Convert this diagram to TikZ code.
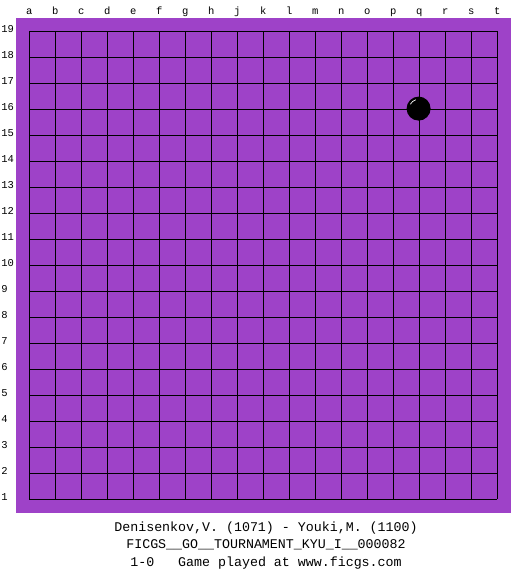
\documentclass[tikz,border=0pt]{standalone}
\usepackage{fontspec}
\setmonofont{Liberation Mono}
\definecolor{boardpurple}{RGB}{158,66,200}
\begin{document}
\begin{tikzpicture}[x=1pt,y=-1pt,
  gridline/.style={black,line width=1pt},
  collabel/.style={font=\ttfamily\fontsize{10.5}{10.5}\selectfont,anchor=base,inner sep=0pt},
  rowlabel/.style={font=\ttfamily\fontsize{10.5}{10.5}\selectfont,anchor=base west,inner sep=0pt},
  caption/.style={font=\ttfamily\fontsize{13.3}{13.3}\selectfont,anchor=base,inner sep=0pt}]
\useasboundingbox (0,0) rectangle (525,575);
\fill[white] (0,0) rectangle (525,575);
\fill[boardpurple] (16,18) rectangle (511,512.5);
\foreach \i in {0,...,18} {
  \draw[gridline] (29.3+26*\i,31.3) -- (29.3+26*\i,499.3);
  \draw[gridline] (29.3,31.3+26*\i) -- (497.3,31.3+26*\i);
}
\foreach \l [count=\i from 0] in {a,b,c,d,e,f,g,h,j,k,l,m,n,o,p,q,r,s,t} {
  \node[collabel] (col\l) at (29.3+26*\i,14.5) {\l};
}
\foreach \i in {0,...,18} {
  \pgfmathtruncatemacro{\r}{19-\i}
  \node[rowlabel] (row\r) at (1.2,31.3+26*\i+1.5) {\r};
}
\fill[black] (418.6,108.6) circle (12);
\draw[white,line width=0.7pt] (418.6,108.6) ++(208:9.3) arc (208:252:9.3);
\node[caption] (players) at (266,531) {Denisenkov,V. (1071) - Youki,M. (1100)};
\node[caption] (event) at (266,548.5) {FICGS\_\_GO\_\_TOURNAMENT\_KYU\_I\_\_000082};
\node[caption] (result) at (266,566) {1-0\ \ \ Game played at www.ficgs.com};
\end{tikzpicture}
\end{document}
